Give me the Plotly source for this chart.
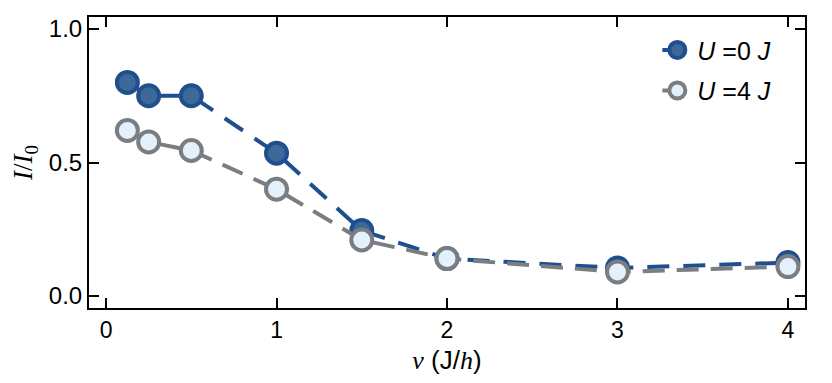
import plotly.graph_objects as go

nu = [0.125, 0.25, 0.5, 1, 1.5, 2, 3, 4]
u0 = [0.80, 0.75, 0.75, 0.535, 0.245, 0.14, 0.105, 0.125]
u4 = [0.62, 0.577, 0.545, 0.40, 0.21, 0.14, 0.09, 0.11]

blue = "#1f4f8f"
gray = "#7a7d81"
serif = "font-family:'Liberation Serif','DejaVu Serif',serif"

fig = go.Figure()
fig.add_trace(go.Scatter(
    x=nu, y=u0, mode="lines+markers", legendgroup="a",
    name="<i>U</i> =0 <i>J</i>",
    line=dict(color=blue, width=4, dash="22px,14px"),
    marker=dict(size=21, color="#3d6999", line=dict(color=blue, width=4)),
))
fig.add_trace(go.Scatter(
    x=nu, y=u4, mode="lines+markers", legendgroup="b",
    name="<i>U</i> =4 <i>J</i>",
    line=dict(color=gray, width=4, dash="22px,12px"),
    marker=dict(size=21, color="#e4f0fb", line=dict(color=gray, width=4)),
))

axis_common = dict(
    showline=True, linecolor="black", linewidth=2, mirror="ticks",
    ticks="inside", ticklen=10, tickwidth=1.5, tickcolor="black",
    showgrid=False, zeroline=False, automargin=False,
)

fig.update_xaxes(
    range=[-0.1, 4.1], tickvals=[0, 1, 2, 3, 4],
    tickfont=dict(size=23, color="black"),
    title=dict(
        text="<span style=\"" + serif + "\"><i>ν</i></span> (J/<span style=\"" + serif + "\"><i>h</i></span>)",
        font=dict(size=26, color="black"), standoff=9,
    ),
    **axis_common,
)
fig.update_yaxes(
    range=[-0.045, 1.045], tickvals=[0, 0.5, 1.0], tickformat=".1f",
    tickfont=dict(size=24, color="black"),
    title=dict(
        text="<i>I</i>/<i>I</i><sub>0</sub>",
        font=dict(size=27, color="black", family="Liberation Serif, DejaVu Serif, serif"), standoff=8,
    ),
    **axis_common,
)

# page body has an 8px margin, so the figure is a bit smaller than the window
fig.update_layout(
    width=824, height=375,
    margin=dict(l=81, r=27, t=9, b=75),
    plot_bgcolor="white", paper_bgcolor="white",
    font=dict(family="Liberation Sans, Arial, sans-serif", color="black"),
    legend=dict(
        x=0.96, y=0.965, xanchor="right", yanchor="top",
        bgcolor="rgba(0,0,0,0)", font=dict(size=25),
        itemwidth=30, tracegroupgap=5, traceorder="grouped",
    ),
)

fig.write_html("out.html")
